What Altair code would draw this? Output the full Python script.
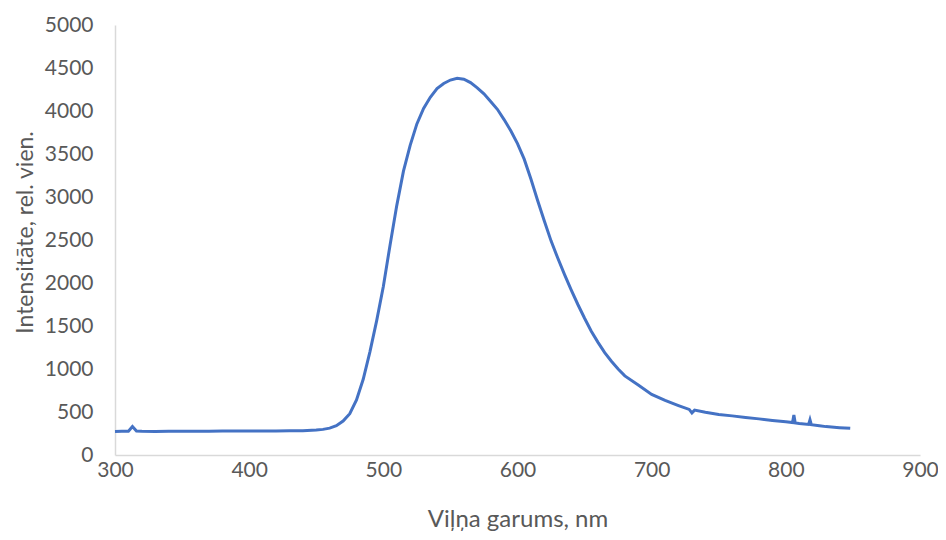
import altair as alt
import pandas as pd

wavelength = [300, 305, 310, 313, 316, 320, 330, 340, 350, 360, 370, 380, 390, 400, 410, 420, 430, 440, 450, 455,
              460, 465, 470, 475, 480, 485, 490, 495, 500, 505, 510, 515, 520, 525, 530, 535, 540, 545, 550, 555,
              560, 565, 570, 575, 580, 585, 590, 595, 600, 605, 610, 615, 620, 625, 630, 635, 640, 645, 650, 655,
              660, 665, 670, 675, 680, 690, 700, 710, 720, 728, 730, 732, 740, 750, 760, 770, 780, 790, 800, 805,
              806, 807, 810, 817, 818, 819, 825, 830, 840, 848]
intensity = [272, 275, 276, 330, 278, 275, 274, 276, 275, 277, 276, 278, 279, 280, 279, 280, 281, 283, 290, 298,
             312, 340, 395, 480, 640, 880, 1200, 1560, 1960, 2440, 2900, 3300, 3600, 3850, 4030, 4160, 4260, 4320, 4360, 4380,
             4370, 4330, 4270, 4200, 4110, 4020, 3900, 3770, 3620, 3440, 3210, 2960, 2720, 2490, 2290, 2100, 1920, 1750, 1590, 1440,
             1310, 1190, 1090, 1000, 920, 815, 705, 635, 575, 530, 490, 522, 497, 472, 455, 437, 420, 402, 386, 377,
             465, 372, 366, 356, 410, 352, 340, 330, 318, 310]

df = pd.DataFrame({"w": wavelength, "i": intensity})

gray = "#595959"
axis_line = "#D9D9D9"
font = "Lato"

chart = alt.Chart(df).mark_line(color="#4472C4", strokeWidth=3).encode(
    x=alt.X("w:Q", scale=alt.Scale(domain=[300, 900], nice=False, zero=False),
            axis=alt.Axis(title="Viļņa garums, nm", values=[300, 400, 500, 600, 700, 800, 900], format="d",
                          ticks=False, grid=False, domainColor=axis_line, domainWidth=1.5,
                          labelFlush=False, labelBound=False,
                          labelColor=gray, labelFontSize=21, labelFont=font, labelPadding=4,
                          titleColor=gray, titleFontSize=24, titleFont=font, titleFontWeight="normal",
                          titleY=64, titleBaseline="middle")),
    y=alt.Y("i:Q", scale=alt.Scale(domain=[0, 5000], nice=False),
            axis=alt.Axis(title="Intensitāte, rel. vien.", values=list(range(0, 5001, 500)), format="d",
                          ticks=False, grid=False, domainColor=axis_line, domainWidth=1.5,
                          labelFlush=False, labelBound=False,
                          labelColor=gray, labelFontSize=21, labelFont=font, labelPadding=22,
                          titleColor=gray, titleFontSize=23, titleFont=font, titleFontWeight="normal",
                          titleX=-90, titleY=207, titleAngle=-90, titleBaseline="middle")),
).properties(
    width=805, height=430,
    autosize=alt.AutoSizeParams(type="none"),
    padding={"left": 107, "top": 17, "right": 18, "bottom": 76},
).configure_view(stroke=None)

chart.save("out.html", embed_options={"renderer": "svg", "actions": False})
